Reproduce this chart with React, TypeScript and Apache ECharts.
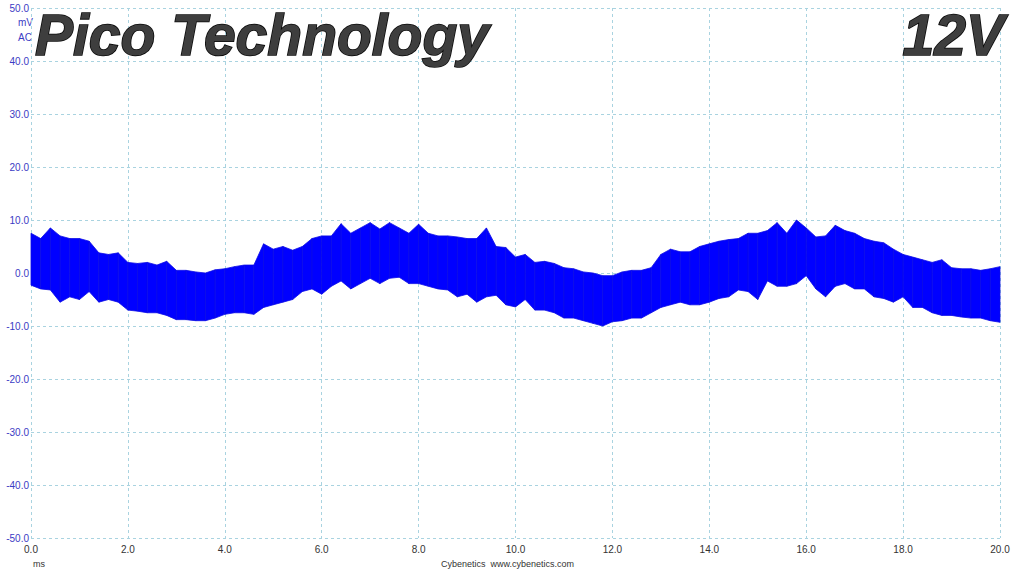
import React, { useEffect, useRef } from "react";
import * as echarts from "echarts";

const timeMs = [
  0.0, 0.2, 0.4, 0.6, 0.8, 1.0, 1.2, 1.4, 1.6, 1.8,
  2.0, 2.2, 2.4, 2.6, 2.8, 3.0, 3.2, 3.4, 3.6, 3.8,
  4.0, 4.2, 4.4, 4.6, 4.8, 5.0, 5.2, 5.4, 5.6, 5.8,
  6.0, 6.2, 6.4, 6.6, 6.8, 7.0, 7.2, 7.4, 7.6, 7.8,
  8.0, 8.2, 8.4, 8.6, 8.8, 9.0, 9.2, 9.4, 9.6, 9.8,
  10.0, 10.2, 10.4, 10.6, 10.8, 11.0, 11.2, 11.4, 11.6, 11.8,
  12.0, 12.2, 12.4, 12.6, 12.8, 13.0, 13.2, 13.4, 13.6, 13.8,
  14.0, 14.2, 14.4, 14.6, 14.8, 15.0, 15.2, 15.4, 15.6, 15.8,
  16.0, 16.2, 16.4, 16.6, 16.8, 17.0, 17.2, 17.4, 17.6, 17.8,
  18.0, 18.2, 18.4, 18.6, 18.8, 19.0, 19.2, 19.4, 19.6, 19.8,
  20.0,
];

// upper envelope of the ripple band (mV)
const upperMv = [
  7.5, 6.5, 8.5, 7.0, 6.5, 6.5, 6.0, 3.8, 3.5, 3.8,
  2.0, 1.8, 2.0, 1.5, 2.2, 0.5, 0.5, 0.2, 0.0, 0.6,
  0.8, 1.2, 1.5, 1.5, 5.5, 4.5, 5.0, 4.3, 5.0, 6.5,
  7.0, 7.0, 9.3, 7.5, 8.5, 9.5, 8.3, 9.5, 8.5, 7.5,
  9.2, 7.5, 7.0, 7.0, 6.8, 6.5, 6.5, 8.5, 5.0, 4.8,
  3.0, 3.5, 2.0, 2.2, 1.8, 1.0, 0.8, 0.2, 0.0, -0.5,
  -0.5, 0.2, 0.5, 0.5, 1.0, 3.5, 4.5, 4.0, 4.0, 5.0,
  5.5, 6.0, 6.3, 6.5, 7.5, 7.5, 8.0, 9.5, 7.5, 10.0,
  8.5, 6.8, 7.0, 9.0, 8.0, 7.5, 6.5, 6.0, 5.7, 4.5,
  3.5, 3.0, 2.5, 2.0, 2.5, 1.0, 0.8, 0.8, 0.5, 0.8,
  1.2,
];

// lower envelope of the ripple band (mV)
const lowerMv = [
  -2.3, -3.0, -3.2, -5.5, -4.5, -5.0, -3.5, -5.5, -5.0, -5.5,
  -7.0, -7.2, -7.5, -7.5, -8.0, -8.8, -8.8, -9.0, -9.0, -8.5,
  -7.8, -7.5, -7.5, -7.8, -6.5, -6.0, -5.5, -5.0, -3.5, -3.0,
  -4.0, -2.5, -1.5, -3.0, -2.0, -1.0, -2.0, -1.0, -0.8, -2.0,
  -2.0, -2.5, -3.0, -3.2, -4.5, -4.0, -5.5, -4.5, -4.2, -6.0,
  -6.4, -5.0, -7.0, -7.0, -7.5, -8.5, -8.5, -9.0, -9.5, -10.0,
  -9.2, -9.0, -8.5, -8.5, -7.5, -6.5, -6.0, -5.5, -6.0, -6.0,
  -5.5, -4.8, -4.5, -3.2, -3.5, -5.0, -1.5, -2.5, -2.5, -2.0,
  -0.5, -3.0, -4.5, -2.5, -2.0, -3.0, -3.0, -4.5, -4.8, -5.5,
  -4.5, -6.5, -6.5, -7.5, -8.0, -8.0, -8.3, -8.5, -8.5, -9.0,
  -9.3,
];

const titleText = "Pico Technology";
const railText = "12V";
const footerText = "Cybenetics  www.cybenetics.com";

export default function App() {
  const ref = useRef<HTMLDivElement>(null);

  useEffect(() => {
    if (!ref.current) return;
    const chart = echarts.init(ref.current, undefined, { renderer: "svg" });

    // one quad per sampling interval: [t0, lo0, up0, t1, lo1, up1]
    const segments = timeMs.slice(0, -1).map((t, i) => [
      t,
      lowerMv[i],
      upperMv[i],
      timeMs[i + 1],
      lowerMv[i + 1],
      upperMv[i + 1],
    ]);

    const titleFont = "italic bold 57px 'Liberation Sans', Arial, sans-serif";
    const labelFont = "10px 'Liberation Sans', Arial, sans-serif";
    const titleStyle = {
      font: titleFont,
      fill: "#3e3e3e",
      stroke: "#0a0a0a",
      lineWidth: 1.6,
      textVerticalAlign: "top",
    };

    chart.setOption({
      animation: false,
      backgroundColor: "#ffffff",
      grid: { left: 31, right: 15, top: 8, bottom: 33, containLabel: false },
      xAxis: {
        type: "value",
        min: 0,
        max: 20,
        interval: 2,
        axisLine: { show: false },
        axisTick: { show: false },
        axisLabel: {
          color: "#333333",
          fontSize: 10,
          fontFamily: "'Liberation Sans', Arial, sans-serif",
          margin: 6,
          formatter: (v: number) => v.toFixed(1),
        },
        splitLine: {
          show: true,
          lineStyle: { color: "#a9d3e0", type: [3, 3], width: 1 },
        },
      },
      yAxis: {
        type: "value",
        min: -50,
        max: 50,
        interval: 10,
        axisLine: { show: false },
        axisTick: { show: false },
        axisLabel: {
          color: "#3b3bc4",
          fontSize: 10,
          fontFamily: "'Liberation Sans', Arial, sans-serif",
          margin: 2,
          formatter: (v: number) => v.toFixed(1),
        },
        splitLine: {
          show: true,
          lineStyle: { color: "#a9d3e0", type: [3, 3], width: 1 },
        },
      },
      series: [
        {
          type: "custom",
          data: segments,
          encode: { x: [0, 3], y: [1, 2, 4, 5] },
          z: 3,
          renderItem: (params: any, api: any) => {
            const a = api.coord([api.value(0), api.value(2)]);
            const b = api.coord([api.value(3), api.value(5)]);
            const c = api.coord([api.value(3), api.value(4)]);
            const d = api.coord([api.value(0), api.value(1)]);
            return {
              type: "polygon",
              shape: { points: [a, b, c, d] },
              style: {
                fill: "#0000ff",
                stroke: "#0a0ae6",
                lineWidth: 0.8,
              },
            };
          },
        },
      ],
      graphic: [
        {
          type: "text",
          left: 18,
          top: 17,
          style: { text: "mV", fill: "#3b3bc4", font: labelFont },
        },
        {
          type: "text",
          left: 18,
          top: 32,
          style: { text: "AC", fill: "#3b3bc4", font: labelFont },
        },
        {
          type: "text",
          x: 35,
          y: 6,
          z: 11,
          style: { text: titleText, ...titleStyle },
        },
        {
          type: "text",
          x: 1004,
          y: 6,
          z: 11,
          style: { text: railText, ...titleStyle, textAlign: "right" },
        },
        {
          type: "text",
          left: 33,
          top: 559,
          style: {
            text: "ms",
            fill: "#333333",
            font: "9px 'Liberation Sans', Arial, sans-serif",
          },
        },
        {
          type: "text",
          left: "center",
          top: 559,
          style: {
            text: footerText,
            fill: "#333333",
            font: "9px 'Liberation Sans', Arial, sans-serif",
          },
        },
      ],
    });
    return () => chart.dispose();
  }, []);

  return (
    <div
      ref={ref}
      style={{ position: "fixed", left: 0, top: 0, width: 1015, height: 571 }}
    />
  );
}
